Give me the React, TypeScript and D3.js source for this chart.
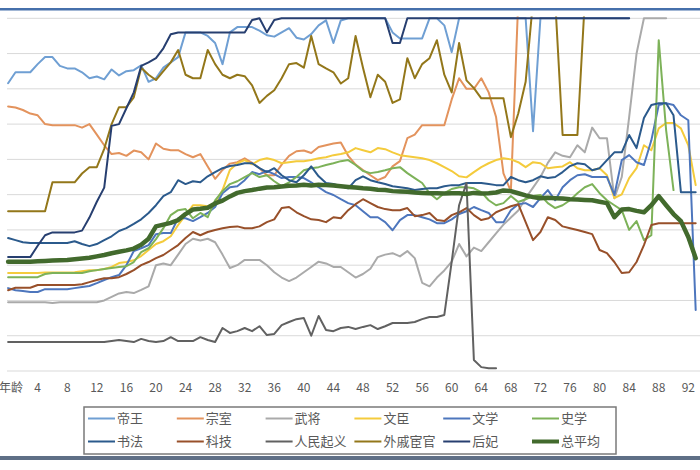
import React from 'react';
import * as d3 from 'd3';

// ---- data (x = category index, 0 = "年龄") ----
const tickIdx = [0, 4, 8, 12, 16, 20, 24, 28, 32, 36, 40, 44, 48, 52, 56, 60, 64, 68, 72, 76, 80, 84, 88, 92];
const tickLabels = ['年龄', '4', '8', '12', '16', '20', '24', '28', '32', '36', '40', '44', '48', '52', '56', '60', '64', '68', '72', '76', '80', '84', '88', '92'];
const yGrid = [0, 10, 20, 30, 40, 50, 60, 70, 80, 90, 100];

const diwang = [81.6,84.7,84.7,84.7,87,89,89,86.5,85.8,85.8, 84.7,83,83.5,82.7,85.5,83.8,85,85.3,86.7,82, 83,86,87.5,89,96,96,96,95,93,87, 96,97.5,97.5,97.5,96.5,95.2,94.8,96,97.2,94.5, 94,95.5,98,99.4,93,99.4,100,100,100,100, 100,100,96,94.3,94.3,94.3,94.3,100,100,98, 90.4,100,100,100,100,100,100,100,100,100, 100,68,100,100,100,100,100,100,100,100, 100,100,100,100,100];
const zongshi = [75,74.7,74,73,72.5,70,69.7,69.7,69.7,69.7, 69,70,67,64,61.5,61.8,61,62.5,62,60, 64.5,63,62.6,62.6,61.5,60.6,61.5,58,54.5,57, 58.8,59.2,60.3,59,57.5,55.5,55.5,58.5,61,62.3, 62.5,61.8,63.5,64,64.5,64.8,61,58.5,57,55.5, 54.1,55,58,59.5,66,67,69.7,69.7,69.7,69.7, 77,83,80,80,83,79,72,56,51,105];
const wujiang = [19.5,19.5,19.5,19.5,19.5,19.5,19.3,19.5,19.5,19.5, 19.5,19.5,19.5,20,21,22,22.4,22.1,23,24, 30,30.5,30,33,36,37.5,37,37.5,36.5,33, 29.2,30,31.5,31.5,31.5,30,28,26.5,25.5,26.5, 28,29.5,31,30.5,29.5,29.5,28,26.5,27.5,29, 32.3,33,33.4,32.5,34,32,25,24,26.5,28.5, 31,36,32.5,35,34,36.5,39,41.5,43.5,45.5, 49,52,55,59,62,61,60.6,64,62,69, 66,66,49,55,72,90,100,100,100,100];
const wenchen = [27.8,27.8,27.8,27.8,27.8,27.9,27.9,27.9,27.9,28, 28.3,28.6,28.6,28.9,29.5,30.6,30.9,31.4,32.6,34.3, 36,36.8,38.2,41.4,44.2,47,47,46.7,47.6,51.3, 57,58.9,59.8,58.6,59.8,60.3,59.8,58.9,59.2,59.5, 59.5,59.8,60.3,60.6,61.2,61.5,62,63.2,62.6,62, 63.2,62.9,62,61.2,60.9,60.6,60.3,59.8,58.9,57.8, 56.7,55.2,54.9,56.4,57.8,58.9,59.8,60.3,60,59.2, 57.8,59.2,58.9,57.5,57.8,58,59.2,57.5,56.9,56.9, 57.5,55.5,49,50.1,54.7,57.5,64,62.6,68.8,70.3, 70.3,68.8,64,52.7];
const wenxue = [23.5,22.9,22.7,22.4,22.4,23.2,23.2,23.2,23.2,23.5, 23.8,24.1,24.9,25.8,26.6,27.2,30,34,34.8,35.7, 38.8,39.1,39.1,43.3,43.3,42.5,43.6,44.8,46.5,50.4, 52.1,52.4,54.1,56.4,55.8,56.7,55.8,54.7,55,55, 54.7,53.5,52.1,50.7,49.9,48.7,47.6,47,45.3,43.6, 43.6,42.2,39.9,42.8,44.2,44.2,43.6,43,41.9,41.9, 43,44.5,45.3,46.5,45.6,44.8,42.2,42.2,45.6,47.3, 47.6,46.5,49,51.3,48.4,52.1,54.1,55.5,55.8,55, 55,55,49.9,59.8,61.2,59.2,58.4,65.4,75.4,75.9, 75.4,72.5,71.1,17.3];
const shixue = [26.6,26.6,26.6,26.6,26.6,27.5,27.8,27.8,27.8,27.8, 27.8,28.3,28.6,28.9,29.2,29.5,29.7,30.9,33.7,34.8, 37.4,40.5,44.2,45.6,45.9,43.3,44.8,43.6,48.4,51, 53,53.8,55,56.1,55,55.5,53.8,52.4,53.5,55, 56.9,57.5,57.8,58.4,58.9,59.5,59.8,58.4,56.7,56.1, 56.4,56.9,57.5,57.8,56.1,54.7,53.3,50.4,48.7,50.4, 51.6,52.1,52.1,51.8,50.7,48.4,47,47.6,49.6,47.9, 48.7,49.6,49.9,47.6,46.2,47,48.4,50.4,52.1,53, 50.4,48.4,47,45.6,40,42.5,37.1,38.5,93.8,68.3, 51.3];
const shufa = [37.7,37.1,36.5,36.3,36.3,36.3,36.3,36.3,36.3,36.8, 36,35.4,36,37.1,38.2,39.7,40.5,41.7,43,44.8, 47,49.6,50.7,54.1,53,53.8,53.5,55.2,56.4,57.5, 58.1,58.4,58.9,58.9,57.5,56.4,57.5,55.5,54.1,53.5, 55.5,58,55.2,53.3,53,52.4,51.8,54.1,55.2,54.1, 53.5,53,52.4,52.1,51.8,51.3,51.6,51.8,51.8,52.4, 52.7,52.7,53.3,53.3,53.3,53,52.7,52.7,55,54.1, 53.5,54.1,55.2,54.7,55,56.4,58.1,58.9,58.6,56.9, 57.5,59.8,62,62,66.9,63.2,71.7,75.4,75.9,75.9, 72.5,50.7,50.7,50.7];
const keji = [22.9,23.6,23.6,23.6,24.4,24.4,24.4,24.4,24.4,24.4, 24.6,25.2,25.8,26.3,26.3,26.6,27.5,28.6,30,30.9, 32,32.9,34.3,35.7,37.7,39.4,38.5,39.4,40,40.5, 40.8,41,40.5,40.5,41,42.2,43,46.2,46.5,45, 43.9,43,42.8,42.2,43.6,43.3,45.6,47.3,48.7,47.6, 46.5,45.9,45.6,45.6,46.2,43.9,44.2,44.8,42.8,42.5, 44.2,45,46.2,44.2,42.8,43.3,45,45.9,46.7,47.3, 42.2,37.1,39.4,43.6,42.8,41,40.5,40,39.4,38.8, 34.3,33.4,30.9,27.8,28,30.9,35.7,41.4,41.9,41.9, 41.9,41.9,41.9,41.9];
const renmin = [8.2,8.2,8.2,8.2,8.2,8.2,8.2,8.2,8.2,8.2, 8.2,8.2,8.2,8.2,8.5,8.8,8.5,8.2,9.1,8.5, 8.2,8.5,9.6,8.5,8.5,8.5,9.6,8.8,8.2,12.2, 10.8,11.3,12.2,11.3,12.7,10.2,10.5,13,13.9,14.7, 15,10,15.6,11.6,11.3,12.2,12.5,11.9,12.5,13, 11.9,12.7,13.6,13.6,13.6,13.9,14.7,15.3,15.3,15.9, 31,47,53.3,3.1,1.1,0.8,0.8];
const waiqi = [45.3,45.3,45.3,45.3,45.3,45.3,53.5,53.5,53.5,53.5, 56,57.8,57.8,63,70,74.8,74.8,77.6,86,84, 82.5,85,87.5,91,84,83,83,91,87,84, 83,84,83.6,81,76,78,79.6,83,87,87.3, 86,95,87,85.8,84.7,81.5,83,95,86,77.6, 84,82,76,77,88.7,83,87,88.7,93.8,84, 79,93,82.4,80.2,77.3,77.3,77.3,77.3,66.3,73, 82,105,105,105,105,66.9,66.9,66.9,105];
const houfei = [32.3,32.3,32.3,32.3,35.5,38.5,39.3,39.3,39.3,39.3, 39.8,43.5,48,52,69.5,70,74.5,79,86.5,87.5, 88.7,91.5,95.5,96,96,96,96,96,96,96, 96,96,96,99.5,100,96,99.5,100,100,100, 100,100,100,100,100,100,100,100,100,100, 100,100,93,93,100,100,100,100,100,100, 100,100,100,100,100,100,100,100,100,100, 100,100,100,100,100,100,100,100,100,100, 100,100,100,100,100];
const zongping = [31,31,31,31,31.1,31.2,31.3,31.4,31.5,31.7, 31.9,32.1,32.5,32.9,33.4,33.8,34.2,34.7,35.8,37.5, 41,41.5,42,42.8,44.5,45.8,46,46.3,47.5,48.3, 49.5,50.5,51,51.3,51.7,52,52.1,52.3,52.5,52.6, 52.8,52.6,52.8,52.7,52.6,52.4,52.2,52,51.8,51.7, 51.4,51.3,51,50.9,50.8,50.6,50.5,50.4,50.4,50.3, 50.4,50.4,50.2,50.5,50.3,50.4,50.6,51.2,51,50.4, 49.8,49.3,49,49.1,49,48.9,48.7,48.6,48.5,48.4, 48,47.6,43.6,45.8,45.9,45.4,45,47,49.6,47, 44.5,42.5,38,32];

const seriesNames = ['帝王', '宗室', '武将', '文臣', '文学', '史学', '书法', '科技', '人民起义', '外戚宦官', '后妃', '总平均'];
const seriesData = [diwang, zongshi, wujiang, wenchen, wenxue, shixue, shufa, keji, renmin, waiqi, houfei, zongping];
const seriesColors = ['#6f9fd3', '#e3935d', '#aaaaaa', '#f4cb3c', '#4d76bd', '#7db259', '#2b5a8c', '#98502a', '#616161', '#93771a', '#273f70', '#426a2d'];
const seriesWidths = [2, 2, 2, 2, 2, 2, 2, 2, 2, 2, 2, 4.5];

const FONT = '"Noto Sans CJK SC", "Noto Sans", sans-serif';

export default function App() {
  const x = d3.scaleLinear().domain([0, 92]).range([8.1, 688.3]);
  const y = d3.scaleLinear().domain([0, 100]).range([371, 18.3]);
  const line = d3.line<number>().x((_, i) => x(i)).y((v) => y(v));

  const legX0 = 88;
  const legDx = 88.8;
  const legRows = [418.5, 441.5];

  return (
    <svg width={700} height={470} style={{ position: 'absolute', left: 0, top: 0, background: '#fff' }}>
      <defs>
        <clipPath id="plotclip">
          <rect x={0} y={16.5} width={700} height={360} />
        </clipPath>
      </defs>
      <rect x={0} y={0} width={700} height={470} fill="#ffffff" />
      <rect x={0} y={8} width={700} height={2.5} fill="#4670ab" />
      {yGrid.map((g) => (
        <line key={g} x1={7} x2={700} y1={y(g)} y2={y(g)} stroke="#d9d9d9" strokeWidth={1} />
      ))}
      <g clipPath="url(#plotclip)" fill="none" strokeLinejoin="round" strokeLinecap="round">
        {seriesData.map((d, i) => (
          <path key={seriesNames[i]} d={line(d) || ''} stroke={seriesColors[i]} strokeWidth={seriesWidths[i]} />
        ))}
      </g>
      {tickIdx.map((t, i) => (
        <text key={t} x={i === 0 ? x(t) + 3 : x(t)} y={392} textAnchor="middle" fontSize={12} fill="#595959" fontFamily={FONT}>
          {tickLabels[i]}
        </text>
      ))}
      <rect x={84} y={407} width={532} height={47} fill="none" stroke="#7a7a7a" strokeWidth={1.5} />
      {seriesNames.map((n, i) => {
        const col = i % 6;
        const row = Math.floor(i / 6);
        const lx = legX0 + col * legDx;
        const ly = legRows[row];
        return (
          <g key={n}>
            <line x1={lx} x2={lx + 27} y1={ly} y2={ly} stroke={seriesColors[i]} strokeWidth={seriesWidths[i] === 2 ? 2 : 4} />
            <text x={lx + 29} y={ly + 4.5} fontSize={13} fill="#595959" fontFamily={FONT}>
              {n}
            </text>
          </g>
        );
      })}
      <rect x={0} y={456} width={700} height={4} fill="#5f6f86" />
    </svg>
  );
}
